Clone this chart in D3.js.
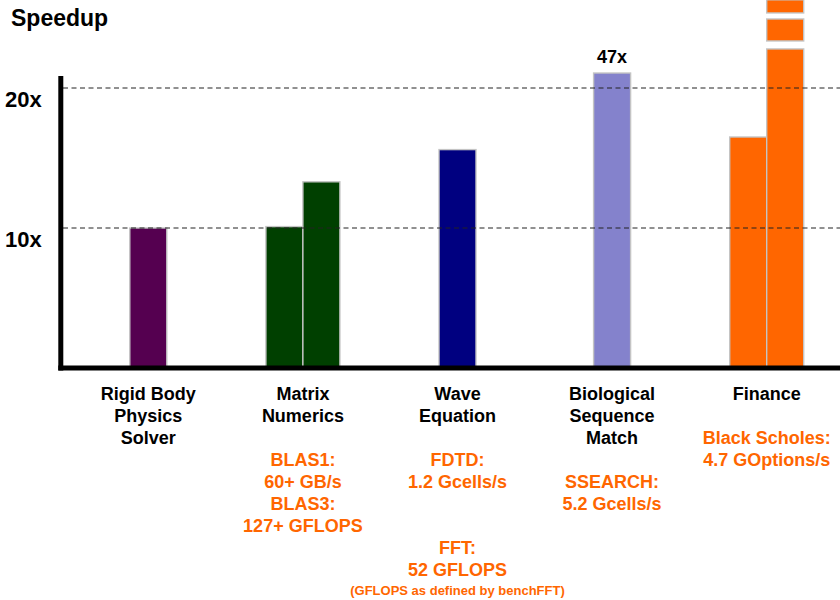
<!DOCTYPE html>
<html>
<head>
<meta charset="utf-8">
<script src="https://cdn.jsdelivr.net/npm/d3@7"></script>
<style>
  html, body { margin: 0; padding: 0; background: #fff; }
  svg { display: block; font-family: "Liberation Sans", Arial, Helvetica, sans-serif; font-weight: bold; }
</style>
</head>
<body>
<svg id="chart" width="840" height="600"></svg>
<script>
// Application areas along the x axis
const categories = ["Rigid Body Physics Solver", "Matrix Numerics", "Wave Equation",
                    "Biological Sequence Match", "Finance"];
// Category names split over lines
const categoryLines = [
  ["Rigid Body", "Physics", "Solver"],
  ["Matrix", "Numerics"],
  ["Wave", "Equation"],
  ["Biological", "Sequence", "Match"],
  ["Finance"]
];
// Speedup factors per application (one or two bars each)
const speedups = [[10], [10.1, 13.3], [15.6], [47], [16.5, 149]];
// Value text printed above a bar (null = none)
const valueLabels = [[null], [null, null], [null], ["47x"], [null, null]];
// Throughput notes under each category ("" = blank line)
const notes = [
  [],
  ["", "BLAS1:", "60+ GB/s", "BLAS3:", "127+ GFLOPS"],
  ["", "FDTD:", "1.2 Gcells/s", "", "", "FFT:", "52 GFLOPS"],
  ["", "SSEARCH:", "5.2 Gcells/s"],
  ["", "Black Scholes:", "4.7 GOptions/s"]
];
const footnote = "(GFLOPS as defined by benchFFT)";
const yTicks = [10, 20];
const barColors = ["#550050", "#004000", "#000080", "#8482cc", "#ff6600"];

const svg = d3.select("#chart");
const W = 840;

// Scales: 0x sits on the baseline, 14 px per unit of speedup
const y = d3.scaleLinear().domain([0, 20]).range([368, 88]);
const x = d3.scaleBand().domain(categories).range([71, 844]).padding(0);
const BAR_W = 37;
const AXIS_TOP = 20.85;       // top end of the vertical axis
const CLIP_LABELED = 21.07;   // off-scale bars that carry a value label stop here
const BREAK_AT = 22.79;       // off-scale bars without a label are drawn broken
const BREAK_PIECES = [[23.36, 24.93], [25.36, 26.3]];
const SCALE_LIMIT = 30;

const gBars = svg.append("g");
categories.forEach((cat, i) => {
  const vals = speedups[i];
  const c = x(cat) + x.bandwidth() / 2;
  const inner = d3.scaleBand().domain(d3.range(vals.length))
    .range([c - vals.length * BAR_W / 2, c + vals.length * BAR_W / 2]);
  vals.forEach((v, j) => {
    const bx = inner(j), bw = inner.bandwidth();
    const lab = valueLabels[i][j];
    let segs;
    if (v <= SCALE_LIMIT) segs = [[0, v]];
    else if (lab) segs = [[0, CLIP_LABELED]];
    else segs = [[0, BREAK_AT]].concat(BREAK_PIECES);
    gBars.selectAll(null).data(segs).enter().append("rect")
      .attr("x", bx).attr("width", bw)
      .attr("y", d => y(d[1]))
      .attr("height", d => y(d[0]) - y(d[1]))
      .attr("fill", barColors[i])
      .attr("stroke", "#c4c4c4")
      .attr("stroke-width", 1.4);
    if (lab) {
      gBars.append("text")
        .attr("x", bx + bw / 2).attr("y", y(segs[0][1]) - 10)
        .attr("text-anchor", "middle").attr("font-size", 18)
        .attr("fill", "#000").text(lab);
    }
  });
});

// Dashed reference lines at the tick values, drawn over the bars
svg.append("g").selectAll("line").data(yTicks).enter().append("line")
  .attr("x1", 63).attr("x2", W)
  .attr("y1", d => y(d)).attr("y2", d => y(d))
  .attr("stroke", "#222").attr("stroke-width", 1)
  .attr("stroke-dasharray", "5,3.5");

// Y axis labels
const yAxis = d3.axisLeft(y).tickValues(yTicks).tickSize(0).tickSizeOuter(0)
  .tickPadding(19).tickFormat(d => d + "x");
const gy = svg.append("g").attr("transform", "translate(60.8,0)").call(yAxis);
gy.select(".domain").remove();
gy.selectAll("text").attr("font-size", 22).attr("font-family", null)
  .attr("fill", "#000").attr("y", 11);

// Axis lines
svg.append("line").attr("x1", 60.8).attr("x2", 60.8)
  .attr("y1", y(0) + 2.5).attr("y2", y(AXIS_TOP))
  .attr("stroke", "#000").attr("stroke-width", 5);
svg.append("line").attr("x1", 58.3).attr("x2", W)
  .attr("y1", y(0)).attr("y2", y(0))
  .attr("stroke", "#000").attr("stroke-width", 5);

// Title
svg.append("text").attr("x", 11).attr("y", 26)
  .attr("font-size", 23).attr("fill", "#000").text("Speedup");

// Category labels and orange notes
const LINE0 = 400, LH = 22;
categories.forEach((cat, i) => {
  const c = x(cat) + x.bandwidth() / 2;
  const lines = categoryLines[i].map(t => ({ t, col: "#000" }))
    .concat(notes[i].map(t => ({ t, col: "#ff6600" })));
  svg.append("g").selectAll("text").data(lines).enter().append("text")
    .attr("x", c).attr("y", (d, k) => LINE0 + k * LH)
    .attr("text-anchor", "middle").attr("font-size", 18)
    .attr("fill", d => d.col).text(d => d.t);
});
svg.append("text")
  .attr("x", x(categories[2]) + x.bandwidth() / 2).attr("y", 595)
  .attr("text-anchor", "middle").attr("font-size", 13)
  .attr("fill", "#ff6600").text(footnote);
</script>
</body>
</html>
